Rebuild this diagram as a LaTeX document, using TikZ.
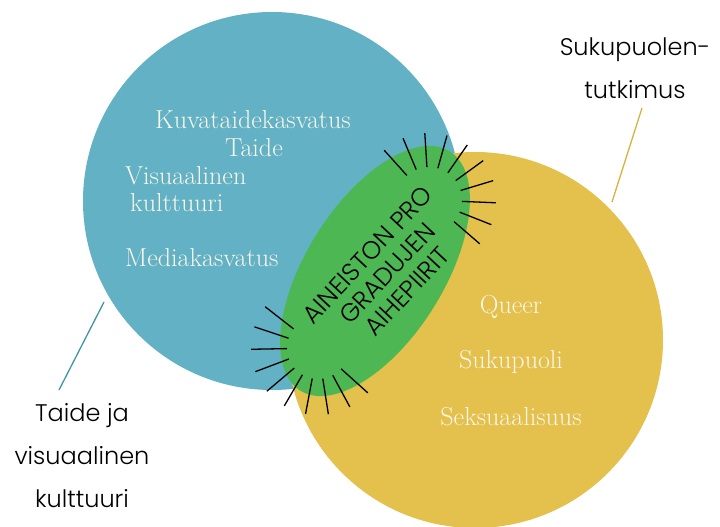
\documentclass[tikz,border=0pt]{standalone}
\usepackage{fontspec}
\newfontfamily\popfont{Poppins}[UprightFont=* Light]
\usetikzlibrary{calc}
\definecolor{cblue}{HTML}{62B1C4}
\definecolor{cyellow}{HTML}{E4C04C}
\definecolor{cgreen}{HTML}{4DB853}
\definecolor{cbline}{HTML}{3F95A6}
\definecolor{cyline}{HTML}{D6B23E}
\definecolor{ctext}{HTML}{FBF6EA}
\tikzset{
  inner/.style={text=ctext, font=\fontsize{26}{28}\selectfont, inner sep=0pt},
  outer/.style={text=black, font=\popfont\fontsize{24}{43}\selectfont, align=center, inner sep=0pt},
  ray/.style={black, line width=1.3pt},
  leader/.style={line width=1.3pt}
}
\begin{document}
\begin{tikzpicture}[x=1pt,y=1pt]
\useasboundingbox (0,0) rectangle (720,-527);
% circles
\fill[cblue] (272,-201) circle[radius=189pt];
\fill[cyellow] (475,-340) circle[radius=188pt];
\fill[cgreen, rotate around={58:(375,-271)}] (375,-271) ellipse[x radius=141pt, y radius=69pt];
% rays
\coordinate (rt) at (429,-200);
\coordinate (rb) at (318,-348);
\foreach \a in {132,112.8,93.6,74.4,55.2,36,16.8,-2.4,-21.6,-40.8}
  \draw[ray] ($(rt)+(\a:33)$) -- ($(rt)+(\a:67)$);
\foreach \a in {142,161.6,181.1,200.7,220.2,239.8,259.3,278.9,298.4,318}
  \draw[ray] ($(rb)+(\a:31)$) -- ($(rb)+(\a:67)$);
% centre text
\node[rotate=47, align=center, font=\popfont\fontsize{25}{27}\selectfont, inner sep=0pt] (mid) at (387,-273) {AINEISTON PRO\\GRADUJEN\\AIHEPIIRIT};
% blue circle texts
\node[inner] (t1) at (253,-120) {Kuvataidekasvatus};
\node[inner] (t2) at (254,-148) {Taide};
\node[inner, anchor=west] (t3) at (125,-176) {Visuaalinen};
\node[inner, anchor=west] (t4) at (130,-203) {kulttuuri};
\node[inner, anchor=west] (t5) at (125,-258) {Mediakasvatus};
% yellow circle texts
\node[inner] (y1) at (511,-307) {Queer};
\node[inner] (y2) at (511,-362) {Sukupuoli};
\node[inner] (y3) at (511,-417) {Seksuaalisuus};
% outer labels
\node[outer] (lr) at (635,-68) {Sukupuolen-\\tutkimus};
\node[outer] (ll) at (82,-456) {Taide ja\\visuaalinen\\kulttuuri};
\coordinate (lrA) at (642,-108);
\coordinate (lrB) at (612,-202);
\coordinate (llA) at (104,-302);
\coordinate (llB) at (59,-390);
\draw[leader, cyline] (lrA) -- (lrB);
\draw[leader, cbline] (llA) -- (llB);
\end{tikzpicture}
\end{document}
